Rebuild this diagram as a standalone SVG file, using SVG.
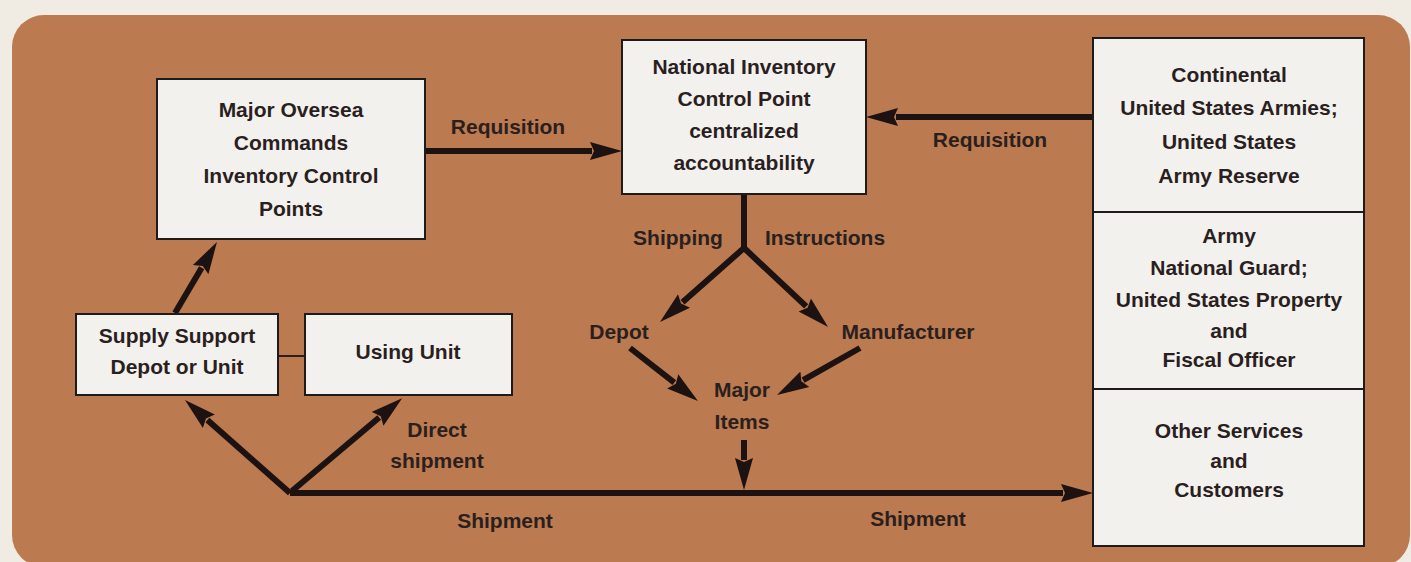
<svg xmlns="http://www.w3.org/2000/svg" width="1411" height="562" viewBox="0 0 1411 562">
  <style>
    .box { fill: #f3f1ee; stroke: #1f1a1c; stroke-width: 2; }
    .lbl { font-family: "Liberation Sans", Arial, sans-serif; font-weight: bold; font-size: 21px; fill: #2a1f1e; text-anchor: middle; }
    .flow { fill: none; stroke: #1c1211; stroke-width: 6; stroke-linejoin: miter; }
    .link { fill: none; stroke: #2a1f1e; stroke-width: 2; }
  </style>
  <defs>
    <marker id="head" viewBox="0 0 32 20" refX="2" refY="10" markerWidth="32" markerHeight="20" markerUnits="userSpaceOnUse" orient="auto">
      <path d="M0,1 L32,10 L0,19 L4,10 z" fill="#1c1211"/>
    </marker>
  </defs>

  <!-- page and panel -->
  <rect x="0" y="0" width="1411" height="562" fill="#f1ece3"/>
  <rect x="12" y="15" width="1398" height="552" rx="32" ry="32" fill="#bb7a4f"/>

  <!-- connectors -->
  <g id="connectors">
    <path class="flow" d="M425,151 L592,151" marker-end="url(#head)"/>
    <path class="flow" d="M1093,117 L896,117" marker-end="url(#head)"/>
    <path class="flow" d="M744,194 L744,248 L682.5,302.2" marker-end="url(#head)"/>
    <path class="flow" d="M744,248 L806.2,306.4" marker-end="url(#head)"/>
    <path class="flow" d="M630,348 L674.3,382.6" marker-end="url(#head)"/>
    <path class="flow" d="M860,348 L803.1,380.2" marker-end="url(#head)"/>
    <path class="flow" d="M744,440 L744,460" marker-end="url(#head)"/>
    <path class="flow" d="M290,493 L1063,493" marker-end="url(#head)"/>
    <path class="flow" d="M290,493 L207.4,419.9" marker-end="url(#head)"/>
    <path class="flow" d="M292,491 L379.2,417.5" marker-end="url(#head)"/>
    <path class="flow" d="M175,313 L201.7,267.8" marker-end="url(#head)"/>
    <path class="link" d="M278,356 L305,356"/>

    <text class="lbl" x="508" y="134">Requisition</text>
    <text class="lbl" x="990" y="147">Requisition</text>
    <text class="lbl" x="678" y="245">Shipping</text>
    <text class="lbl" x="825" y="245">Instructions</text>
    <text class="lbl" x="619" y="339">Depot</text>
    <text class="lbl" x="908" y="339">Manufacturer</text>
    <text class="lbl" x="742" y="397">Major</text>
    <text class="lbl" x="742" y="429">Items</text>
    <text class="lbl" x="437" y="437">Direct</text>
    <text class="lbl" x="437" y="468">shipment</text>
    <text class="lbl" x="505" y="528">Shipment</text>
    <text class="lbl" x="918" y="526">Shipment</text>
  </g>

  <!-- nodes -->
  <g id="major-oversea">
    <rect class="box" x="157" y="79" width="268" height="160"/>
    <text class="lbl" x="291" y="117">Major Oversea</text>
    <text class="lbl" x="291" y="150">Commands</text>
    <text class="lbl" x="291" y="183">Inventory Control</text>
    <text class="lbl" x="291" y="216">Points</text>
  </g>

  <g id="nicp">
    <rect class="box" x="622" y="40" width="244" height="154"/>
    <text class="lbl" x="744" y="74">National Inventory</text>
    <text class="lbl" x="744" y="106">Control Point</text>
    <text class="lbl" x="744" y="138">centralized</text>
    <text class="lbl" x="744" y="170">accountability</text>
  </g>

  <g id="supply-support">
    <rect class="box" x="76" y="314" width="202" height="81"/>
    <text class="lbl" x="177" y="343">Supply Support</text>
    <text class="lbl" x="177" y="374">Depot or Unit</text>
  </g>

  <g id="using-unit">
    <rect class="box" x="305" y="314" width="207" height="81"/>
    <text class="lbl" x="408" y="359">Using Unit</text>
  </g>

  <g id="conus-armies">
    <rect class="box" x="1093" y="38" width="271" height="174"/>
    <text class="lbl" x="1229" y="82">Continental</text>
    <text class="lbl" x="1229" y="115">United States Armies;</text>
    <text class="lbl" x="1229" y="149">United States</text>
    <text class="lbl" x="1229" y="183">Army Reserve</text>
  </g>

  <g id="national-guard">
    <rect class="box" x="1093" y="212" width="271" height="177"/>
    <text class="lbl" x="1229" y="243">Army</text>
    <text class="lbl" x="1229" y="275">National Guard;</text>
    <text class="lbl" x="1229" y="307">United States Property</text>
    <text class="lbl" x="1229" y="338">and</text>
    <text class="lbl" x="1229" y="367">Fiscal Officer</text>
  </g>

  <g id="other-services">
    <rect class="box" x="1093" y="389" width="271" height="157"/>
    <text class="lbl" x="1229" y="438">Other Services</text>
    <text class="lbl" x="1229" y="468">and</text>
    <text class="lbl" x="1229" y="497">Customers</text>
  </g>
</svg>
